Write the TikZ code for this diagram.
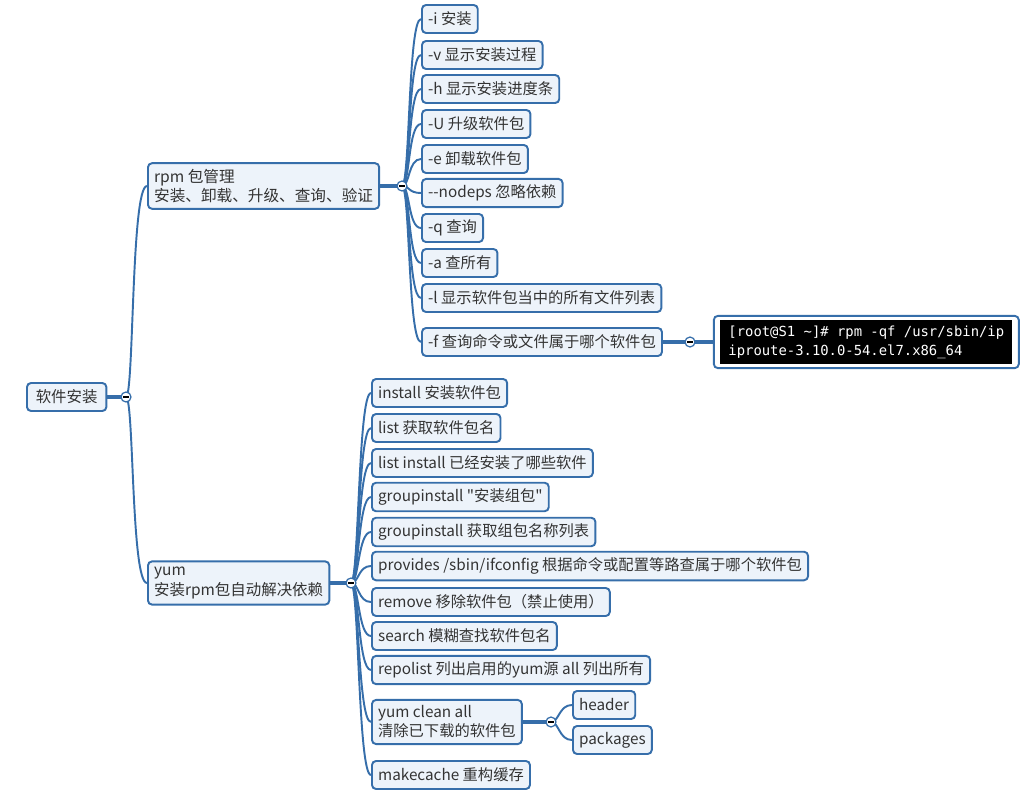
\documentclass[tikz,border=0pt]{standalone}
\usepackage{fontspec}
\newfontfamily\cn{Noto Sans CJK SC}
\newfontfamily\shell{DejaVu Sans Mono}
\usetikzlibrary{fit}
\definecolor{edge}{RGB}{54,110,170}
\definecolor{pane}{RGB}{237,243,250}
\begin{document}
\begin{tikzpicture}[x=0.02cm,y=-0.02cm,
    topic/.style={draw=edge,fill=pane,line width=1.1pt,rounded corners=2.3pt,
      font=\cn\fontsize{8.7}{10.8}\selectfont,text=black!80,inner xsep=3.5pt,
      minimum height=0.56cm,anchor=west,align=left},
    branch/.style={draw=edge,line width=1.1pt},
    stem/.style={draw=edge,line width=2pt},
    fold/.style={circle,draw=edge,fill=white,line width=0.7pt,minimum size=0.2cm,inner sep=0pt}]
  \useasboundingbox (0,0) rectangle (1024,794);

  % Root
  \node[topic,font=\cn\fontsize{8.8}{10.8}\selectfont,inner xsep=5pt] (root) at (26,397) {软件安装};
  \coordinate (rootc) at (126,397);

  % rpm
  \node[topic,font=\cn\fontsize{8.9}{11}\selectfont] (rpm) at (147,186) {rpm 包管理\\安装、卸载、升级、查询、验证};
  \coordinate (rpmc) at (402,186);
  \foreach \y/\t [count=\i] in {19/{-i 安装}, 55/{-v 显示安装过程}, 89/{-h 显示安装进度条},
      124/{-U 升级软件包}, 159/{-e 卸载软件包}, 193/{--nodeps 忽略依赖}, 228/{-q 查询},
      263/{-a 查所有}, 298/{-l 显示软件包当中的所有文件列表}, 342/{-f 查询命令或文件属于哪个软件包}}
    \node[topic] (r\i) at (421,\y) {\t};

  % Screenshot
  \coordinate (fc) at (690,342);
  \node[fill=black,text=white,font=\shell\fontsize{7.9}{10.8}\selectfont,align=left,anchor=west,
    inner xsep=2pt,minimum width=5.84cm,minimum height=0.8cm] (cmd) at (720,342)
    {[root@S1 \textasciitilde]\# rpm -qf /usr/sbin/ip\\iproute-3.10.0-54.el7.x86\_64};
  \node[draw=edge,line width=1.1pt,rounded corners=2.3pt,fit=(cmd),inner xsep=3.5pt,inner ysep=2pt] (shot) {};

  % yum
  \node[topic,font=\cn\fontsize{8.8}{11}\selectfont] (yum) at (147,583) {yum\\安装rpm包自动解决依赖};
  \coordinate (yumc) at (351,583);
  \foreach \y/\t [count=\i] in {393/{install 安装软件包}, 428/{list 获取软件包名},
      463/{list install 已经安装了哪些软件}, 497/{groupinstall "安装组包"},
      532/{groupinstall 获取组包名称列表}, 566/{provides /sbin/ifconfig 根据命令或配置等路查属于哪个软件包},
      602/{remove 移除软件包（禁止使用）}, 636/{search 模糊查找软件包名},
      670/{repolist 列出启用的yum源 all 列出所有}, 722/{yum clean all\\清除已下载的软件包},
      775/{makecache 重构缓存}}
    \node[topic] (y\i) at (371,\y) {\t};
  \coordinate (cleanc) at (551,722);
  \node[topic] (head) at (572,705) {header};
  \node[topic] (pack) at (572,740) {packages};

  % Connectors
  \draw[stem] (root.east) -- (rootc);
  \draw[stem] (rpm.east) -- (rpmc);
  \draw[stem] (yum.east) -- (yumc);
  \draw[stem] (r10.east) -- (fc) -- (shot.west);
  \draw[stem] (y10.east) -- (cleanc);
  \draw[branch] (rootc) .. controls +(8,0) and +(-16,0) .. (rpm.west);
  \draw[branch] (rootc) .. controls +(8,0) and +(-16,0) .. (yum.west);
  \foreach \i in {1,...,10}
    \draw[branch] (rpmc) .. controls +(8,0) and +(-13,0) .. (r\i.west);
  \foreach \i in {1,...,11}
    \draw[branch] (yumc) .. controls +(8,0) and +(-13,0) .. (y\i.west);
  \draw[branch] (cleanc) .. controls +(8,0) and +(-13,0) .. (head.west);
  \draw[branch] (cleanc) .. controls +(8,0) and +(-13,0) .. (pack.west);

  % Fold marks
  \foreach \c in {rootc,rpmc,yumc,fc,cleanc}
    \node[fold] at (\c) {\rule{3.5pt}{0.8pt}};

\end{tikzpicture}
\end{document}
